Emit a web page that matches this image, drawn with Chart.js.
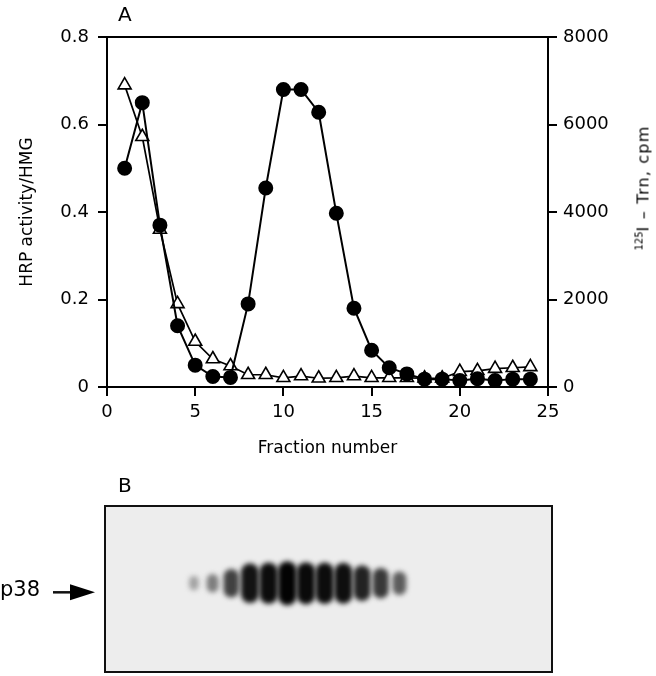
<!DOCTYPE html>
<html lang="en">
<head>
    <meta charset="UTF-8">
    <title>Fraction profile</title>
    <script src="https://cdn.jsdelivr.net/npm/chart.js"></script>
    <style>
        body { margin: 0; background: #fff; font-family: "DejaVu Sans", sans-serif; color: #000; }
        #page { position: relative; width: 656px; height: 676px; overflow: hidden; }
        .lbl { position: absolute; white-space: nowrap; line-height: 1; }
        #rightTitle { left: 643px; top: 188px; font-size: 16px; letter-spacing: 1.2px;
            transform: translate(-50%, -50%) rotate(-90deg); }
        #rightTitle sup { font-size: 10px; vertical-align: 6px; letter-spacing: 0; }
    </style>
</head>
<body>
<div id="page">
    <canvas id="chartA" width="656" height="470" style="position:absolute;left:0;top:0"></canvas>
    <canvas id="chartB" width="656" height="206" style="position:absolute;left:0;top:470px"></canvas>
    <div class="lbl" style="left:118px;top:4px;font-size:20px">A</div>
    <div class="lbl" id="rightTitle"><sup>125</sup>I – Trn, cpm</div>
    <div class="lbl" style="left:118px;top:475px;font-size:20px">B</div>
    <div class="lbl" style="left:0;top:579px;font-size:21px">p38</div>
</div>

<script>
    // Panel A: fraction numbers and the two profiles
    const fractions = [1, 2, 3, 4, 5, 6, 7, 8, 9, 10, 11, 12, 13, 14, 15, 16, 17, 18, 19, 20, 21, 22, 23, 24];
    const hrpActivity = [0.50, 0.65, 0.37, 0.14, 0.05, 0.024, 0.022, 0.19, 0.455, 0.68, 0.68, 0.628, 0.397, 0.18,
        0.084, 0.044, 0.03, 0.018, 0.018, 0.015, 0.019, 0.015, 0.018, 0.018];
    const trnCpm = [6900, 5720, 3600, 1900, 1040, 640, 480, 280, 280, 210, 250, 200, 210, 250, 210, 210,
        210, 200, 200, 350, 370, 420, 440, 460];

    const leftTicks = [0, 0.2, 0.4, 0.6, 0.8];
    const rightTicks = [0, 2000, 4000, 6000, 8000];
    const xTicks = [0, 5, 10, 15, 20, 25];

    // Panel B: blot lanes (fraction) and band darkness
    const bandLanes = [5, 6, 7, 8, 9, 10, 11, 12, 13, 14, 15, 16];
    const bandIntensity = [0.28, 0.45, 0.72, 0.93, 0.96, 1.0, 0.97, 0.96, 0.95, 0.86, 0.76, 0.6];

    const font = 'DejaVu Sans';
    const axisGrid = { drawOnChartArea: false, drawTicks: true, tickLength: 9, color: '#000', lineWidth: 2 };
    const axisBorder = { display: true, color: '#000', width: 2 };

    // top frame line of panel A
    const topFrame = {
        id: 'topFrame',
        afterDraw(chart) {
            const { ctx, chartArea } = chart;
            ctx.save();
            ctx.strokeStyle = '#000';
            ctx.lineWidth = 2;
            ctx.beginPath();
            ctx.moveTo(chartArea.left, chartArea.top);
            ctx.lineTo(chartArea.right, chartArea.top);
            ctx.stroke();
            ctx.restore();
        }
    };

    new Chart(document.getElementById('chartA'), {
        type: 'line',
        data: {
            datasets: [
                {
                    label: 'HRP activity/HMG',
                    data: fractions.map((f, i) => ({ x: f, y: hrpActivity[i] })),
                    yAxisID: 'y',
                    borderColor: '#000',
                    borderWidth: 2,
                    backgroundColor: '#000',
                    pointBackgroundColor: '#000',
                    pointBorderColor: '#000',
                    pointRadius: 6.5,
                    pointStyle: 'circle',
                    tension: 0
                },
                {
                    label: '125I-Trn, cpm',
                    data: fractions.map((f, i) => ({ x: f, y: trnCpm[i] })),
                    yAxisID: 'y1',
                    borderColor: '#000',
                    borderWidth: 1.7,
                    pointBackgroundColor: '#fff',
                    pointBorderColor: '#000',
                    pointBorderWidth: 1.6,
                    pointRadius: 7.5,
                    pointStyle: 'triangle',
                    tension: 0
                }
            ]
        },
        options: {
            responsive: false,
            animation: false,
            devicePixelRatio: 1,
            layout: { padding: { top: 37, left: 0, right: 0, bottom: 0 } },
            plugins: { legend: { display: false }, tooltip: { enabled: false } },
            scales: {
                x: {
                    type: 'linear',
                    min: 0, max: 25,
                    afterBuildTicks: s => { s.ticks = xTicks.map(v => ({ value: v })); },
                    ticks: { color: '#000', font: { family: font, size: 18 }, padding: 6, maxRotation: 0 },
                    grid: axisGrid,
                    border: axisBorder,
                    title: { display: true, text: 'Fraction number', color: '#000',
                        font: { family: font, size: 17 }, padding: { top: 0, bottom: 11 } },
                    afterFit: s => { s.height = 83; }
                },
                y: {
                    position: 'left',
                    min: 0, max: 0.8,
                    afterBuildTicks: s => { s.ticks = leftTicks.map(v => ({ value: v })); },
                    ticks: { color: '#000', font: { family: font, size: 18 }, padding: 9,
                        callback: v => v === 0 ? '0' : v.toFixed(1) },
                    grid: axisGrid,
                    border: axisBorder,
                    title: { display: true, text: 'HRP activity/HMG', color: '#000',
                        font: { family: font, size: 17 }, padding: { top: 17, bottom: 0 } },
                    afterFit: s => { s.width = 107; }
                },
                y1: {
                    position: 'right',
                    min: 0, max: 8000,
                    afterBuildTicks: s => { s.ticks = rightTicks.map(v => ({ value: v })); },
                    ticks: { color: '#000', font: { family: font, size: 18 }, padding: 6,
                        callback: v => String(v) },
                    grid: axisGrid,
                    border: axisBorder,
                    afterFit: s => { s.width = 108; }
                }
            }
        },
        plugins: [topFrame]
    });

    // gel background, bands, frame and arrow
    const gelPlot = {
        id: 'gelPlot',
        beforeDatasetsDraw(chart) {
            const { ctx, chartArea: a } = chart;
            ctx.save();
            ctx.fillStyle = '#ededed';
            ctx.fillRect(a.left, a.top, a.right - a.left, a.bottom - a.top);
            ctx.restore();
        },
        afterDatasetsDraw(chart) {
            const { ctx, chartArea: a } = chart;
            const meta = chart.getDatasetMeta(0);
            ctx.save();
            ctx.beginPath();
            ctx.rect(a.left, a.top, a.right - a.left, a.bottom - a.top);
            ctx.clip();
            ctx.filter = 'blur(2.6px)';
            meta.data.forEach((pt, i) => {
                const v = bandIntensity[i];
                const w = 6 + 13 * v;
                const h = 12 + 32 * v * v;
                const g = Math.round(225 - 222 * v);
                ctx.fillStyle = `rgb(${g},${g},${g})`;
                ctx.beginPath();
                ctx.roundRect(pt.x - w / 2, pt.y - h / 2, w, h, Math.min(w / 2, h / 3));
                ctx.fill();
            });
            ctx.restore();

            ctx.save();
            ctx.strokeStyle = '#111';
            ctx.lineWidth = 2;
            ctx.strokeRect(a.left, a.top, a.right - a.left, a.bottom - a.top);

            // arrow pointing at the p38 band
            const ay = chart.scales.y.getPixelForValue(0.48);
            ctx.fillStyle = '#000';
            ctx.lineWidth = 2.5;
            ctx.beginPath();
            ctx.moveTo(a.left - 52, ay);
            ctx.lineTo(a.left - 30, ay);
            ctx.stroke();
            ctx.beginPath();
            ctx.moveTo(a.left - 35, ay - 8);
            ctx.lineTo(a.left - 10, ay);
            ctx.lineTo(a.left - 35, ay + 8);
            ctx.closePath();
            ctx.fill();
            ctx.restore();
        }
    };

    new Chart(document.getElementById('chartB'), {
        type: 'scatter',
        data: {
            datasets: [{
                label: 'p38',
                data: bandLanes.map(l => ({ x: l, y: 0.535 })),
                pointRadius: 0
            }]
        },
        options: {
            responsive: false,
            animation: false,
            devicePixelRatio: 1,
            layout: { padding: { top: 36, left: 105, right: 104, bottom: 4 } },
            plugins: { legend: { display: false }, tooltip: { enabled: false } },
            scales: {
                x: { type: 'linear', min: 0.24, max: 24.17, display: false },
                y: { min: 0, max: 1, display: false }
            }
        },
        plugins: [gelPlot]
    });
</script>
</body>
</html>
